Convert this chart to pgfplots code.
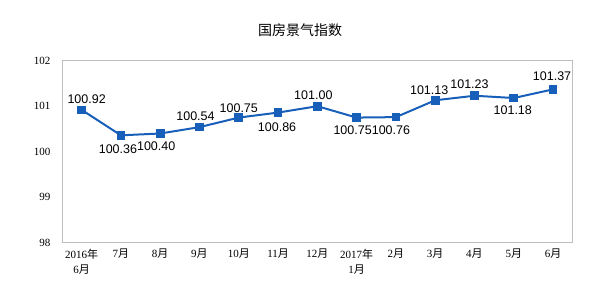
\documentclass[border=0pt]{standalone}
\usepackage{fontspec}
\setmainfont{Liberation Sans}
\newfontfamily\cjk{Noto Sans CJK SC}
\newfontfamily\ser{Liberation Serif}
\usepackage{pgfplots}
\usepackage{pgfplotstable}
\pgfplotsset{compat=1.18}
\definecolor{lineblue}{RGB}{24,95,185}
\definecolor{axgray}{RGB}{190,190,190}

\pgfplotstableread{
x y dx dy
0 100.92 5 11
1 100.36 -3 -14
2 100.40 -4 -13
3 100.54 -4 11
4 100.75 0 9
5 100.86 -1 -15
6 101.00 -4 11
7 100.75 -4 -13
8 100.76 -5 -13
9 101.13 -6 10
10 101.23 -5 12
11 101.18 -1 -12
12 101.37 -1 13
}\datatab

\begin{document}
\begin{tikzpicture}
\path[use as bounding box] (0,0) rectangle (598bp,296bp);
\node[font=\cjk\fontsize{14bp}{16bp}\selectfont] at (300bp,266bp) {国房景气指数};
\begin{axis}[
  at={(62bp,53.3bp)}, anchor=south west,
  scale only axis, width=510.7bp, height=182bp,
  xmin=-0.5, xmax=12.5, ymin=98, ymax=102,
  axis line style={axgray, line width=0.8bp},
  ytick={98,99,100,101,102},
  yticklabels={98,99,100,101,102},
  yticklabel style={font=\ser\fontsize{11bp}{13bp}\selectfont, xshift=-8bp},
  ytick style={draw=none},
  xtick={0,...,12},
  xtick style={draw=none},
  minor xtick={0.5,1.5,...,11.5},
  minor tick length=3bp,
  minor x tick style={axgray, line width=0.8bp},
  tick align=inside,
  xticklabels={{\ser 2016}年\\{\ser 6}月,{\ser 7}月,{\ser 8}月,{\ser 9}月,{\ser 10}月,{\ser 11}月,{\ser 12}月,{\ser 2017}年\\{\ser 1}月,{\ser 2}月,{\ser 3}月,{\ser 4}月,{\ser 5}月,{\ser 6}月},
  xticklabel style={font=\cjk\fontsize{11bp}{15bp}\selectfont, align=center, yshift=-3bp},
  clip=false,
]
\addplot[lineblue, line width=2bp, mark=square*, mark size=3.3bp,
  mark options={fill=lineblue, draw=lineblue},
  point meta=y,
  visualization depends on={\thisrow{dx}\as\dx},
  visualization depends on={\thisrow{dy}\as\dy},
  nodes near coords={\pgfmathprintnumber[fixed,fixed zerofill,precision=2,assume math mode=true]{\pgfplotspointmeta}},
  nodes near coords style={anchor=center, xshift=\dx bp, yshift=\dy bp, black, font=\fontsize{12.5bp}{14bp}\selectfont, inner sep=0pt},
] table[x=x,y=y] {\datatab};
\end{axis}
\end{tikzpicture}
\end{document}
